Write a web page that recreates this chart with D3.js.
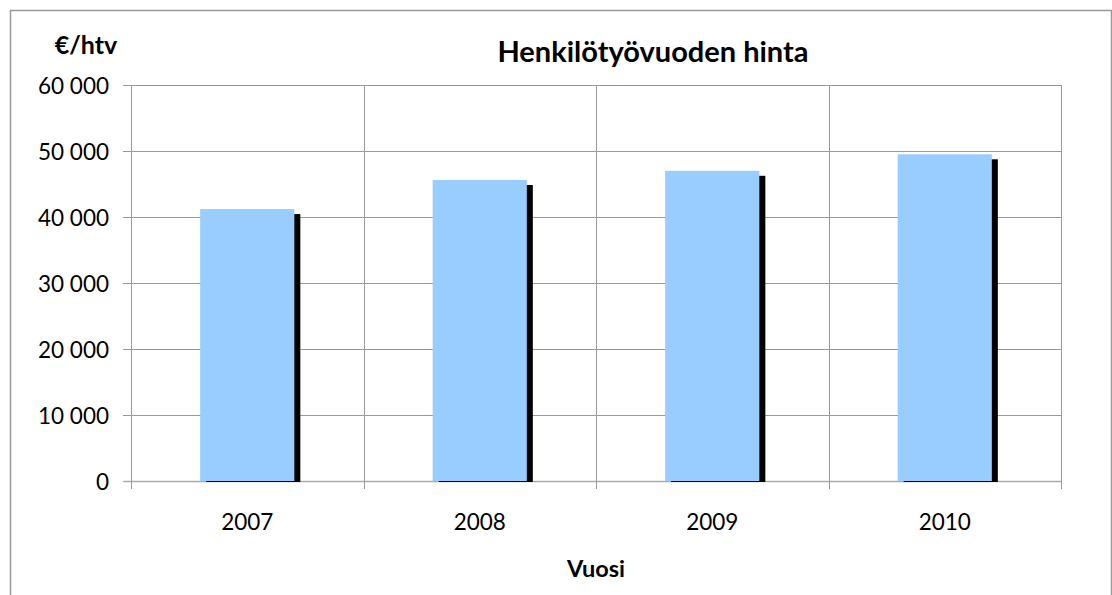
<!DOCTYPE html>
<html>
<head>
<meta charset="utf-8">
<script src="https://cdn.jsdelivr.net/npm/d3@7"></script>
<style>
  body { margin: 0; background: #fff; }
  text { font-family: Lato, "Open Sans", sans-serif; fill: #000; }
</style>
</head>
<body>
<script>
// Henkilötyövuoden hinta, €/htv per year
var years = ["2007", "2008", "2009", "2010"];
var prices = [41200, 45600, 47000, 49500];
var yTicks = [0, 10000, 20000, 30000, 40000, 50000, 60000];

var width = 1112,
    height = 595;

var margin = {top: 85, left: 131, right: 51, bottom: 114};

var svg = d3.select("body").append("svg")
    .attr("width", width)
    .attr("height", height);

// chart border (open at the bottom, cut off by the window)
svg.append("path")
    .attr("d", "M10.5," + height + "V10.5H" + (width - 0.5) + "V" + height)
    .attr("fill", "none")
    .attr("stroke", "#999")
    .attr("stroke-width", 1.5);

var x = d3.scaleBand()
    .domain(years)
    .range([margin.left, width - margin.right]);

var y = d3.scaleLinear()
    .domain([0, 60000])
    .range([height - margin.bottom, margin.top]);

var fmt = function(d) { return d3.format(",")(d).replace(/,/g, " "); };

// horizontal gridlines
svg.append("g")
    .selectAll("line")
    .data(yTicks)
  .enter().append("line")
    .attr("x1", margin.left - 8)
    .attr("x2", width - margin.right)
    .attr("y1", function(d) { return Math.round(y(d)) + 0.5; })
    .attr("y2", function(d) { return Math.round(y(d)) + 0.5; })
    .attr("stroke", function(d) { return d === 0 ? "#aaa" : "#999"; })
    .attr("stroke-width", function(d) { return d === 0 ? 1.5 : 1; });

// vertical gridlines at category edges
var edges = years.map(function(d) { return x(d); }).concat([x.range()[1]]);
svg.append("g")
    .selectAll("line")
    .data(edges)
  .enter().append("line")
    .attr("x1", function(d) { return Math.round(d) + 0.5; })
    .attr("x2", function(d) { return Math.round(d) + 0.5; })
    .attr("y1", margin.top)
    .attr("y2", y(0) + 8)
    .attr("stroke", "#999");

// y tick labels
svg.append("g")
    .selectAll("text")
    .data(yTicks)
  .enter().append("text")
    .attr("x", 109)
    .attr("y", function(d) { return y(d); })
    .attr("dy", "0.4em")
    .attr("text-anchor", "end")
    .style("font-size", "22.5px")
    .text(fmt);

var barW = x.bandwidth() * 0.405;

var bars = svg.append("g")
    .selectAll("g")
    .data(prices)
  .enter().append("g");

// shadow
bars.append("rect")
    .attr("x", function(d, i) { return x(years[i]) + (x.bandwidth() - barW) / 2 + 6; })
    .attr("y", function(d) { return y(d) + 5; })
    .attr("width", barW)
    .attr("height", function(d) { return y(0) - y(d) - 4; })
    .attr("fill", "#000");

bars.append("rect")
    .attr("x", function(d, i) { return x(years[i]) + (x.bandwidth() - barW) / 2; })
    .attr("y", function(d) { return y(d); })
    .attr("width", barW)
    .attr("height", function(d) { return y(0) - y(d); })
    .attr("fill", "#99ccff");

// category labels
svg.append("g")
    .selectAll("text")
    .data(years)
  .enter().append("text")
    .attr("x", function(d) { return x(d) + x.bandwidth() / 2; })
    .attr("y", 530)
    .attr("text-anchor", "middle")
    .style("font-size", "22.5px")
    .text(function(d) { return d; });

svg.append("text")
    .attr("x", 653)
    .attr("y", 62)
    .attr("text-anchor", "middle")
    .style("font-size", "29px")
    .style("font-weight", "bold")
    .text("Henkilötyövuoden hinta");

svg.append("text")
    .attr("x", 86)
    .attr("y", 54)
    .attr("text-anchor", "middle")
    .style("font-size", "25px")
    .style("font-weight", "bold")
    .text("€/htv");

svg.append("text")
    .attr("x", 596)
    .attr("y", 577)
    .attr("text-anchor", "middle")
    .style("font-size", "23.5px")
    .style("font-weight", "bold")
    .text("Vuosi");
</script>
</body>
</html>
